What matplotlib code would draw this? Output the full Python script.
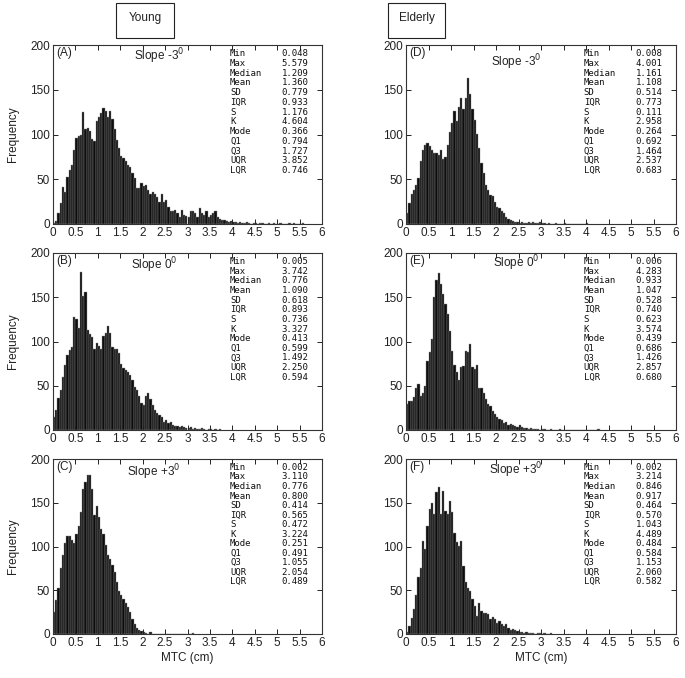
import numpy as np
import matplotlib
matplotlib.use("Agg")
import matplotlib.pyplot as plt
from matplotlib.patches import Rectangle

plt.rcParams['font.family'] = ['Liberation Sans', 'DejaVu Sans']

bin_width = 0.05

counts_A = [1,3,12,23,41,36,53,60,66,83,96,98,100,125,106,107,104,95,93,115,120,124,130,126,119,126,117,106,94,85,
            76,74,70,66,64,57,51,40,40,46,42,44,38,34,36,34,30,25,33,25,27,19,15,14,16,12,8,16,10,9,
            8,15,14,12,8,18,12,10,14,8,10,12,14,8,6,4,4,3,2,3,2,
            2,1,2,1,1,2,1,0,1,1,0,1,1,0,0,1,0,1,0,0,1,0,0,0,1,0,1,0,0,0,1]
counts_B = [15,23,36,45,60,74,85,90,94,128,125,115,178,151,156,113,108,105,91,98,95,91,106,110,117,110,94,92,91,87,
            75,70,68,65,62,57,49,45,38,30,28,38,42,35,28,23,19,17,15,9,11,8,9,6,4,4,3,5,3,2,
            2,3,1,2,1,1,2,1,0,1,1,0,1,0,1]
counts_C = [25,39,53,75,90,104,112,112,108,104,114,124,140,166,174,182,182,166,136,146,134,120,114,102,90,86,79,71,59,49,
            45,40,35,31,25,17,11,7,5,3,2,1,0,2,0,0,0,0,0,0,0,0,0,0,0,0,0,0,0,0,0,0,1]
counts_D = [12,23,34,38,44,51,70,83,88,90,87,83,79,79,77,83,73,75,88,103,113,126,115,131,141,129,141,163,145,128,
            116,101,85,68,57,44,38,32,31,25,19,18,14,12,8,6,4,3,2,
            2,1,2,1,1,2,1,2,1,1,2,1,1,0,1,0,0,1,0,0,0,1,0,0,0,0,0,0,0,0,0,1]
counts_E = [29,33,33,37,48,52,38,42,50,78,88,103,150,169,177,165,154,142,131,112,89,74,65,57,71,72,89,88,97,71,
            69,74,48,48,42,35,29,27,22,18,15,12,11,8,9,6,7,6,4,3,6,3,2,2,1,2,1,1,1,0,
            1,1,0,0,1,0,0,0,1,0,0,0,0,0,0,0,0,0,0,0,0,0,0,0,0,1]
counts_F = [2,9,18,29,45,65,76,106,97,124,143,150,137,162,168,137,164,141,137,152,139,116,105,101,106,78,59,53,49,40,
            32,21,36,26,24,24,23,17,19,17,13,15,11,9,11,7,5,6,5,3,2,2,1,2,1,1,1,0,1,1,0,1,0,0,1]

panel_letters = ['(A)', '(B)', '(C)', '(D)', '(E)', '(F)']
slope_titles = [r'Slope -3$^0$', r'Slope 0$^0$', r'Slope +3$^0$'] * 2
group_titles = ['Young', 'Elderly']
stat_names = ['Min', 'Max', 'Median', 'Mean', 'SD', 'IQR', 'S', 'K', 'Mode', 'Q1', 'Q3', 'UQR', 'LQR']
stats_A = ['0.048', '5.579', '1.209', '1.360', '0.779', '0.933', '1.176', '4.604', '0.366', '0.794', '1.727', '3.852', '0.746']
stats_B = ['0.005', '3.742', '0.776', '1.090', '0.618', '0.893', '0.736', '3.327', '0.413', '0.599', '1.492', '2.250', '0.594']
stats_C = ['0.002', '3.110', '0.776', '0.800', '0.414', '0.565', '0.472', '3.224', '0.251', '0.491', '1.055', '2.054', '0.489']
stats_D = ['0.008', '4.001', '1.161', '1.108', '0.514', '0.773', '0.111', '2.958', '0.264', '0.692', '1.464', '2.537', '0.683']
stats_E = ['0.006', '4.283', '0.933', '1.047', '0.528', '0.740', '0.623', '3.574', '0.439', '0.686', '1.426', '2.857', '0.680']
stats_F = ['0.002', '3.214', '0.846', '0.917', '0.464', '0.570', '1.043', '4.489', '0.484', '0.584', '1.153', '2.060', '0.582']

x_ticks = np.arange(0, 6.01, 0.5)
x_ticklabels = ['0', '0.5', '1', '1.5', '2', '2.5', '3', '3.5', '4', '4.5', '5', '5.5', '6']
y_ticks = [0, 50, 100, 150, 200]

W, H = 685, 678
fig = plt.figure(figsize=(W / 100, H / 100), dpi=100)

col_x = [(53, 322), (406, 676)]
row_y = [(45, 224), (253, 430), (459, 634)]

all_counts = [counts_A, counts_B, counts_C, counts_D, counts_E, counts_F]
all_stats = [stats_A, stats_B, stats_C, stats_D, stats_E, stats_F]
slope_y = [0.935, 0.93, 0.925, 0.905, 0.94, 0.935]
slope_x = [0.394, 0.375, 0.375, 0.407, 0.407, 0.407]

for k in range(6):
    c, r = divmod(k, 3)
    x0, x1 = col_x[c]
    y0, y1 = row_y[r]
    ax = fig.add_axes([x0 / W, 1 - y1 / H, (x1 - x0) / W, (y1 - y0) / H])
    counts = np.array(all_counts[k])
    lefts = np.arange(len(counts)) * bin_width
    ax.bar(lefts, counts, width=bin_width, align='edge', color='#0d0d0d',
           edgecolor='#8c8c8c', linewidth=0.3)
    ax.set_xlim(0, 6)
    ax.set_ylim(0, 200)
    ax.set_xticks(x_ticks)
    ax.set_xticklabels(x_ticklabels)
    ax.set_yticks(y_ticks)
    ax.tick_params(direction='in', top=True, right=True, length=3.5, width=0.7,
                   labelsize=8.5, colors='#222222', pad=2)
    for s in ax.spines.values():
        s.set_color('#333333')
        s.set_linewidth(0.8)
    ax.text(0.012, 0.955, panel_letters[k], transform=ax.transAxes, fontsize=8.5,
            va='center', ha='left', color='#222222')
    ax.text(slope_x[k], slope_y[k], slope_titles[k], transform=ax.transAxes,
            fontsize=8.5, va='center', ha='center', color='#222222')
    for i, (nm, val) in enumerate(zip(stat_names, all_stats[k])):
        yy = 0.952 - i * 0.0545
        ax.text(0.658, yy, nm, transform=ax.transAxes, fontsize=6.5,
                family='DejaVu Sans Mono', va='center', ha='left', color='#111111')
        ax.text(0.85, yy, val, transform=ax.transAxes, fontsize=6.5,
                family='DejaVu Sans Mono', va='center', ha='left', color='#111111')
    if c == 0:
        ax.set_ylabel('Frequency', fontsize=8.5, color='#222222', labelpad=8)
    if r == 2:
        ax.set_xlabel('MTC (cm)', fontsize=8.5, color='#222222', labelpad=2)

boxes = [(116, 174), (388, 445)]
for (bx0, bx1), t in zip(boxes, group_titles):
    fig.patches.append(Rectangle((bx0 / W, 1 - 38 / H), (bx1 - bx0) / W, 35 / H,
                                 transform=fig.transFigure, fill=False,
                                 edgecolor='#222222', linewidth=0.8))
    fig.text((bx0 + bx1) / 2 / W, 1 - 18 / H, t, ha='center', va='center',
             fontsize=8.5, color='#222222')

fig.savefig('out.png', dpi=100)
